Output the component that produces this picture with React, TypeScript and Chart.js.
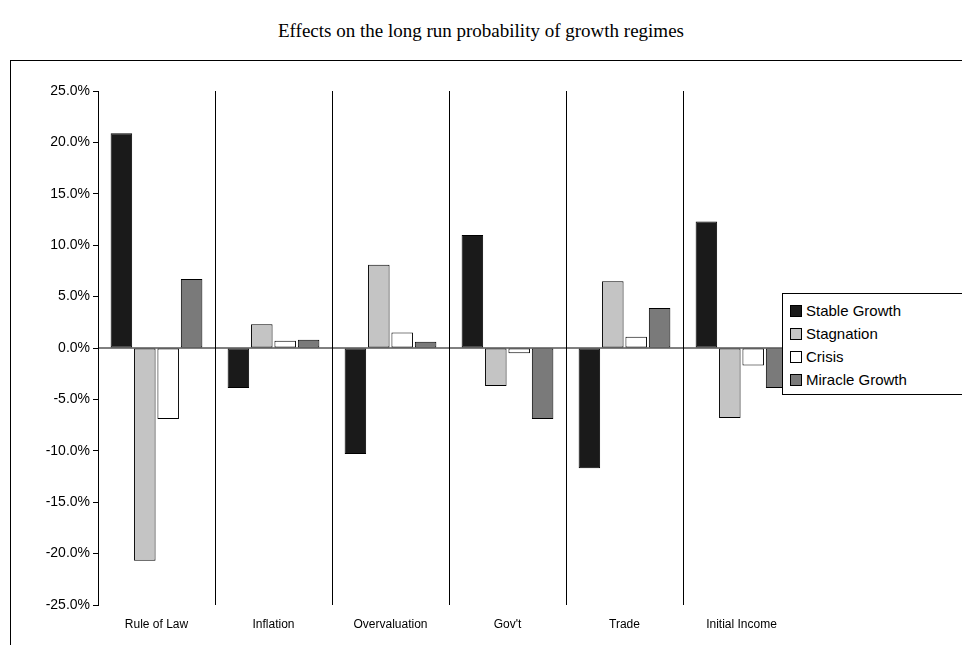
import { useEffect, useRef } from "react";
import Chart from "chart.js/auto";

const categories = ["Rule of Law", "Inflation", "Overvaluation", "Gov't", "Trade", "Initial Income"];
const stableGrowth = [20.9, -3.9, -10.3, 11.0, -11.7, 12.3];
const stagnation = [-20.7, 2.3, 8.1, -3.7, 6.5, -6.8];
const crisis = [-6.9, 0.7, 1.5, -0.5, 1.1, -1.7];
const miracleGrowth = [6.7, 0.8, 0.6, -6.9, 3.9, -3.9];

const seriesNames = ["Stable Growth", "Stagnation", "Crisis", "Miracle Growth"];
const seriesColors = ["#1a1a1a", "#c4c4c4", "#ffffff", "#7a7a7a"];

const font = "'Liberation Sans', Arial, sans-serif";

const App = () => {
    const canvasRef = useRef<HTMLCanvasElement | null>(null);

    useEffect(() => {
        if (!canvasRef.current) return;
        const values = [stableGrowth, stagnation, crisis, miracleGrowth];
        const chart = new Chart(canvasRef.current, {
            type: "bar",
            data: {
                labels: categories,
                datasets: values.map((d, i) => ({
                    label: seriesNames[i],
                    data: d,
                    backgroundColor: seriesColors[i],
                    borderColor: "#000",
                    borderWidth: 1,
                    borderSkipped: false,
                    categoryPercentage: 0.8,
                    barPercentage: 0.92,
                })),
            },
            options: {
                animation: false,
                responsive: false,
                layout: { padding: { top: 91, right: 162, left: 0, bottom: 0 } },
                plugins: { legend: { display: false }, tooltip: { enabled: false } },
                scales: {
                    x: {
                        offset: true,
                        grid: { offset: true, drawTicks: false, lineWidth: 1, color: "#000" },
                        border: { display: false },
                        ticks: { color: "#000", font: { family: font, size: 12 }, padding: 12 },
                        afterFit: (s: any) => { s.height = 40; },
                    },
                    y: {
                        min: -25,
                        max: 25,
                        ticks: {
                            stepSize: 5,
                            color: "#000",
                            font: { family: font, size: 14 },
                            callback: (v: any) => Number(v).toFixed(1) + "%",
                        },
                        grid: {
                            drawOnChartArea: false,
                            color: "#000",
                            tickLength: 5,
                        },
                        border: { color: "#000" },
                        afterFit: (s: any) => { s.width = 98; },
                    },
                },
            },
            plugins: [{
                id: "zeroLine",
                afterDatasetsDraw: (c: any) => {
                    const ctx = c.ctx;
                    const { left, right, top, bottom } = c.chartArea;
                    const y = c.scales.y.getPixelForValue(0);
                    ctx.save();
                    // hide the right-most category separator
                    ctx.fillStyle = "#fff";
                    ctx.fillRect(right - 2, top - 1, 4, bottom - top + 2);
                    ctx.strokeStyle = "#000";
                    ctx.lineWidth = 1;
                    ctx.beginPath();
                    ctx.moveTo(left, y);
                    ctx.lineTo(right, y);
                    ctx.stroke();
                    ctx.restore();
                },
            }],
        });
        return () => chart.destroy();
    }, []);

    return (
        <div style={{ position: "fixed", left: 0, top: 0, width: 962, height: 645, overflow: "hidden", background: "#fff" }}>
            <div style={{ position: "absolute", top: 20, left: 0, width: 962, textAlign: "center", fontFamily: "'Liberation Serif', serif", fontSize: 19 }}>
                Effects on the long run probability of growth regimes
            </div>
            <div style={{ position: "absolute", left: 10, top: 60, width: 1000, height: 700, border: "1px solid #000" }} />
            <canvas ref={canvasRef} width={962} height={645} style={{ position: "absolute", left: 0, top: 0 }} />
            <div style={{ position: "absolute", left: 782, top: 293, width: 300, height: 102, border: "1px solid #000", background: "#fff", fontFamily: font, fontSize: 15, padding: "5px 0 0 7px", boxSizing: "border-box" }}>
                {seriesNames.map((n, i) => (
                    <div key={n} style={{ display: "flex", alignItems: "center", height: 23 }}>
                        <span style={{ width: 10, height: 10, border: "1px solid #000", background: seriesColors[i], marginRight: 4 }} />
                        {n}
                    </div>
                ))}
            </div>
        </div>
    );
};

export default App;
